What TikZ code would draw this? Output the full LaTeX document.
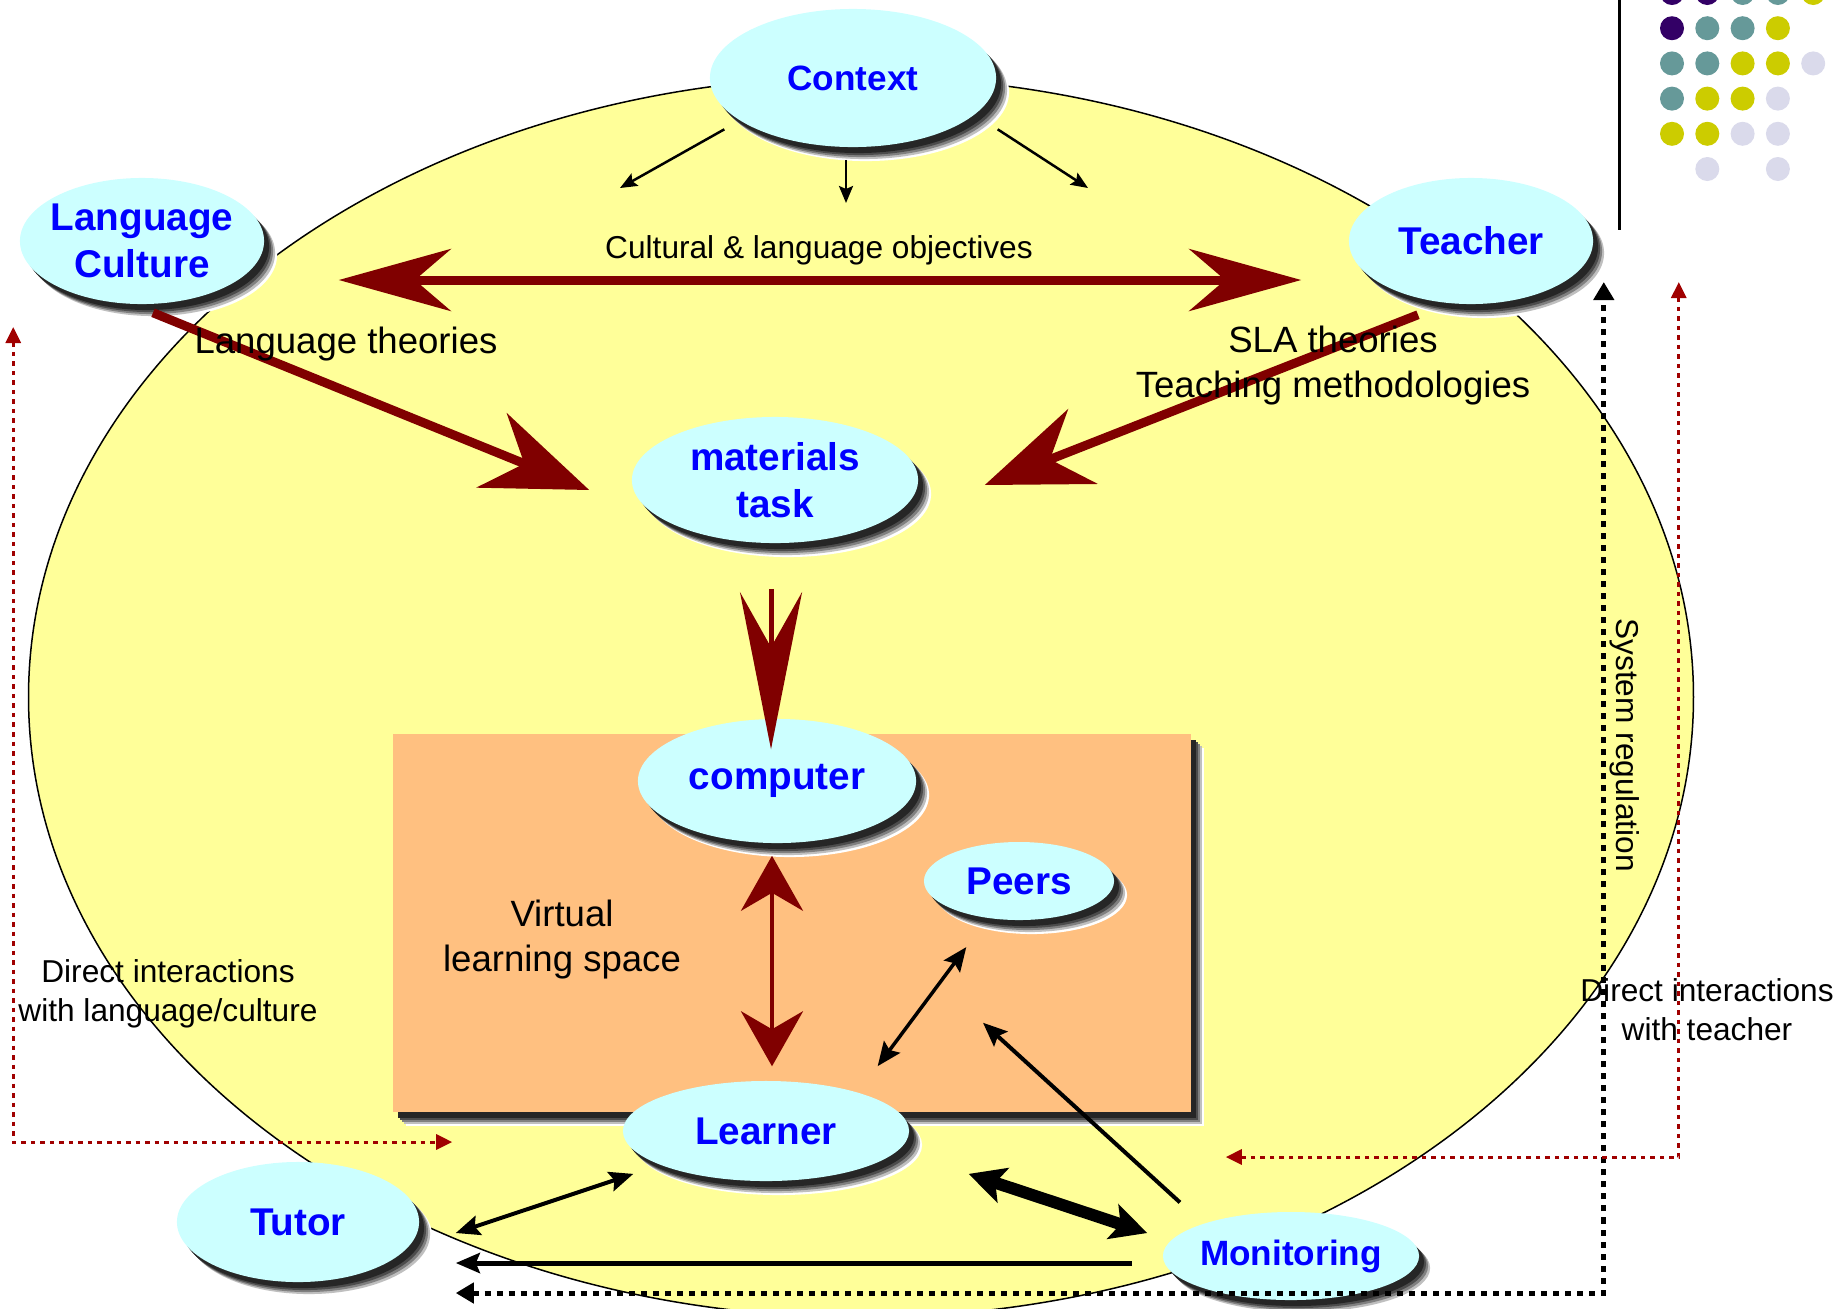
\documentclass[tikz,border=0pt]{standalone}
\usepackage{fontspec}
\setmainfont{Liberation Sans}
\usepackage{xcolor}
\usepackage{tikz}
\usetikzlibrary{shapes.geometric,shadows,arrows.meta}
\definecolor{spaceyellow}{RGB}{255,255,153}
\definecolor{virtualorange}{RGB}{255,192,128}
\definecolor{bubblecyan}{RGB}{204,255,255}
\definecolor{linkmaroon}{RGB}{128,0,0}
\definecolor{directred}{RGB}{160,0,0}
\definecolor{dotpurple}{RGB}{51,0,102}
\definecolor{dotteal}{RGB}{102,153,153}
\definecolor{dotolive}{RGB}{204,204,0}
\definecolor{dotlilac}{RGB}{218,218,235}
\tikzset{
    softshadow/.style={
        general shadow={fill=white, shadow xshift=0.13cm, shadow yshift=-0.14cm},
        general shadow={fill=black!25, shadow xshift=0.11cm, shadow yshift=-0.12cm},
        general shadow={fill=black!50, shadow xshift=0.09cm, shadow yshift=-0.10cm},
        general shadow={fill=black!70, shadow xshift=0.07cm, shadow yshift=-0.08cm},
        general shadow={fill=black!85, shadow xshift=0.05cm, shadow yshift=-0.06cm}},
    bubble/.style={ellipse, softshadow, fill=bubblecyan, inner xsep=-0.1cm, inner ysep=-0.1cm,
        text=blue, align=center, font=\fontsize{11}{13.3}\selectfont\bfseries},
    ctxline/.style={line width=0.025cm, >={Stealth[length=0.17cm, width=0.14cm, inset=0.03cm]}},
    objline/.style={linkmaroon, line width=0.09cm, >={Stealth[length=1.12cm, width=0.62cm, inset=0.36cm]}},
    theoryline/.style={linkmaroon, line width=0.09cm, >={Stealth[length=1.05cm, width=0.8cm, inset=0.35cm]}},
    taskline/.style={linkmaroon, line width=0.05cm, >={Stealth[length=1.57cm, width=0.62cm, inset=0.55cm]}},
    accessline/.style={linkmaroon, line width=0.04cm, >={Stealth[length=0.55cm, width=0.62cm, inset=0.18cm]}},
    talkline/.style={line width=0.04cm, >={Stealth[length=0.24cm, width=0.2cm, inset=0.04cm]}},
    thickline/.style={line width=0.12cm, >={Stealth[length=0.36cm, width=0.36cm, inset=0.08cm]}},
    sysline/.style={line width=0.05cm, dash pattern=on 0.06cm off 0.06cm, >={Triangle[length=0.18cm, width=0.2cm]}},
    directline/.style={directred, line width=0.03cm, dash pattern=on 0.045cm off 0.05cm, >={Triangle[length=0.16cm, width=0.15cm]}},
    biglabel/.style={align=center, font=\fontsize{10.4}{12.8}\selectfont},
    smalllabel/.style={align=center, font=\fontsize{9}{11}\selectfont}
}
\begin{document}
\begin{tikzpicture}[x=0.01cm, y=-0.01cm]
        \useasboundingbox (0,0) rectangle (1842,1308);
        \draw[fill=spaceyellow, line width=0.015cm] (861,697) ellipse [x radius=8.32cm, y radius=6.2cm];
        \path[softshadow, fill=virtualorange] (393,734) rectangle (1191,1112);
        \draw[line width=0.03cm] (1619,0) -- (1619,230);
        \foreach \col/\row/\dotcol in {0/0/dotpurple, 1/0/dotpurple, 2/0/dotteal, 3/0/dotteal, 4/0/dotolive,
            0/1/dotpurple, 1/1/dotteal, 2/1/dotteal, 3/1/dotolive,
            0/2/dotteal, 1/2/dotteal, 2/2/dotolive, 3/2/dotolive, 4/2/dotlilac,
            0/3/dotteal, 1/3/dotolive, 2/3/dotolive, 3/3/dotlilac,
            0/4/dotolive, 1/4/dotolive, 2/4/dotlilac, 3/4/dotlilac,
            1/5/dotlilac, 3/5/dotlilac}
            \fill[\dotcol] ({1672+35.3*\col},{-7+35.2*\row}) circle (0.12cm);

        \node[bubble, minimum width=2.86cm, minimum height=1.38cm, font=\fontsize{10}{12}\selectfont\bfseries] (context) at (853,78) {Context};
        \node[bubble, minimum width=2.44cm, minimum height=1.26cm] (langcult) at (142,241) {Language\\Culture};
        \node[bubble, minimum width=2.44cm, minimum height=1.26cm] (teacher) at (1471,241) {Teacher};
        \node[bubble, minimum width=2.86cm, minimum height=1.26cm] (materials) at (775,480) {materials\\task};
        \node[bubble, minimum width=2.78cm, minimum height=1.24cm] (computer) at (777,781) {computer};
        \node[bubble, minimum width=1.90cm, minimum height=0.78cm] (peers) at (1019,881) {Peers};
        \node[bubble, minimum width=2.86cm, minimum height=1.00cm] (learner) at (766,1131) {Learner};
        \node[bubble, minimum width=2.42cm, minimum height=1.20cm] (tutor) at (298,1222) {Tutor};
        \node[bubble, minimum width=2.56cm, minimum height=0.88cm, font=\fontsize{10}{12}\selectfont\bfseries] (monitoring) at (1291,1256) {Monitoring};

        \coordinate (ctxleft) at (620,188);
        \coordinate (ctxmid) at (846,203);
        \coordinate (ctxright) at (1088,188);
        \draw[ctxline, ->] ([shift={(-27,2)}]context.south west) -- (ctxleft);
        \draw[ctxline, ->] ([shift={(-7,12)}]context.south) -- (ctxmid);
        \draw[ctxline, ->] ([shift={(43,2)}]context.south east) -- (ctxright);

        \draw[objline, <->] ([shift={(74,39)}]langcult.east) -- ([shift={(-47,39)}]teacher.west);
        \draw[theoryline, ->] ([shift={(11,8)}]langcult.south) -- ([shift={(-42,10)}]materials.west);
        \draw[theoryline, ->] ([shift={(-53,10)}]teacher.south) -- ([shift={(66,5)}]materials.east);
        \draw[taskline, ->] ([shift={(-4,45)}]materials.south) -- ([shift={(-6,31)}]computer.north);
        \draw[accessline, <->] ([shift={(-5,12)}]computer.south) -- ([shift={(6,-14)}]learner.north);

        \draw[talkline, <->, line width=0.035cm] ([shift={(10,-29)}]learner.north east) -- ([shift={(15,38)}]peers.south west);
        \draw[talkline, ->] ([shift={(-20,-22)}]monitoring.north west) -- ([shift={(-36,102)}]peers.south);
        \draw[thickline, <->] ([shift={(101,7)}]learner.south east) -- ([shift={(-15,-23)}]monitoring.west);
        \draw[talkline, <->] ([shift={(36,11)}]tutor.east) -- ([shift={(-31,7)}]learner.south west);
        \draw[talkline, ->, line width=0.05cm] ([shift={(-30,7)}]monitoring.west) -- ([shift={(36,41)}]tutor.east);

        \draw[sysline, <->] ([shift={(36,71)}]tutor.east) -| ([shift={(10,41)}]teacher.east);
        \draw[directline, <->] ([shift={(-6,86)}]langcult.west) |- ([shift={(-170,11)}]learner.west);
        \draw[directline, <->] ([shift={(85,41)}]teacher.east) |- ([shift={(316,26)}]learner.east);

        \node[smalllabel] (objectives) at (819,250) {Cultural \& language objectives};
        \node[biglabel] (langtheories) at (346,344) {Language theories};
        \node[biglabel] (slatheories) at (1333,366) {SLA theories\\Teaching methodologies};
        \node[biglabel] (virtualspace) at (562,940) {Virtual\\learning space};
        \node[smalllabel] (directlang) at (168,994) {Direct interactions\\with language/culture};
        \node[smalllabel] (directteacher) at (1707,1010) {Direct interactions\\with teacher};
        \node[smalllabel, rotate=-90] (sysregulation) at (1625,745) {System regulation};
    \end{tikzpicture}
\end{document}
